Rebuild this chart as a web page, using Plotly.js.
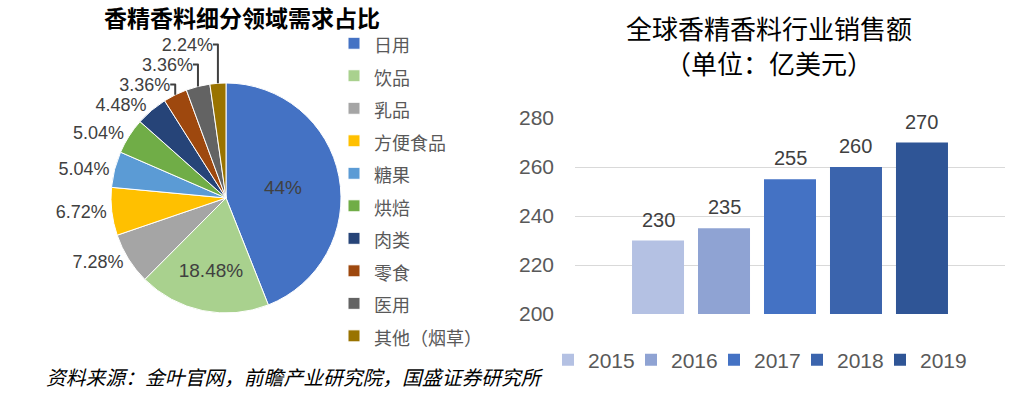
<!DOCTYPE html>
<html>
<head>
<meta charset="utf-8">
<script src="https://cdn.plot.ly/plotly-3.0.1.min.js"></script>
<style>
html,body{margin:0;padding:0;background:#fff;}
#chart{width:1011px;height:393px;}
</style>
</head>
<body>
<div id="chart"></div>
<script>
// Pie data: demand share by segment (%)
const pieCategories = ['日用','饮品','乳品','方便食品','糖果','烘焙','肉类','零食','医用','其他（烟草）'];
const pieValues = [44, 18.48, 7.28, 6.72, 5.04, 5.04, 4.48, 3.36, 3.36, 2.24];
const pieColors = ['#4472C4','#A9D18E','#A5A5A5','#FFC000','#5B9BD5','#70AD47','#264478','#9E480E','#636363','#997300'];

// Bar data: global flavor & fragrance sales (100 million USD)
const barYears = ['2015','2016','2017','2018','2019'];
const barValues = [230, 235, 255, 260, 270];
const barColors = ['#B4C1E3','#8FA3D3','#4472C4','#3B64AD','#2F5596'];
const yTicks = [200, 220, 240, 260, 280];

const FONT = 'Arial, "Liberation Sans", "Noto Sans CJK SC", sans-serif';
const CJK = '"Noto Sans CJK SC", sans-serif';

const traces = [];
traces.push({
  type: 'pie',
  labels: pieCategories.map(c => '<span style="font-size:18px">' + c + '</span>'),
  values: pieValues,
  sort: false,
  direction: 'clockwise',
  rotation: 0,
  marker: {colors: pieColors, line: {color: '#ffffff', width: 1}},
  texttemplate: '%{value}%',
  textposition: pieValues.map((v, i) => i < 2 ? 'inside' : 'outside'),
  insidetextorientation: 'horizontal',
  textfont: {family: FONT, size: 19, color: '#404040'},
  outsidetextfont: {family: FONT, size: 18, color: '#404040'},
  domain: {x: [111/1011, 341/1011], y: [80/393, 310/393]},
  hoverinfo: 'label+percent',
  showlegend: true,
  legend: 'legend'
});

// each year gets its own one-entry legend box (row of boxes below the bars)
const barLegendIds = barYears.map((yr, i) => 'legend' + (i + 2));
barYears.forEach((yr, i) => {
  traces.push({
    type: 'bar',
    name: yr,
    x: [yr],
    y: [barValues[i]],
    marker: {color: barColors[i]},
    hoverinfo: 'name+y',
    xaxis: 'x',
    yaxis: 'y',
    legend: barLegendIds[i]
  });
});

// value labels above bars, placed through the axes from the data arrays
// (category axis: x given as the category index)
const barLabels = barYears.map((yr, i) => ({
  x: i, y: barValues[i], xref: 'x', yref: 'y',
  text: String(barValues[i]),
  showarrow: false,
  xanchor: 'center', yanchor: 'middle',
  yshift: 21,
  font: {family: FONT, size: 20, color: '#404040'}
}));

const layout = {
  width: 1011,
  height: 393,
  margin: {l: 0, r: 0, t: 0, b: 0},
  paper_bgcolor: '#ffffff',
  plot_bgcolor: '#ffffff',
  font: {family: FONT, color: '#595959'},
  barmode: 'overlay',
  bargap: 0.212,
  xaxis: {
    domain: [575/1011, 1005/1011],
    type: 'category',
    categoryorder: 'array',
    categoryarray: barYears,
    range: [-1.258, 5.258],
    showticklabels: false,
    showgrid: false,
    zeroline: false,
    showline: false,
    ticks: '',
    fixedrange: true
  },
  yaxis: {
    domain: [79/393, 275/393],
    range: [200, 280],
    tickvals: yTicks,
    ticktext: yTicks.map(String),
    showgrid: true,
    gridcolor: '#D9D9D9',
    gridwidth: 1,
    zeroline: false,
    showline: false,
    ticks: '',
    ticklabelstandoff: 20,
    tickfont: {family: FONT, size: 21, color: '#595959'},
    fixedrange: true
  },
  legend: {
    x: 334/1011,
    xanchor: 'left',
    y: 1 - 22/393,
    yanchor: 'top',
    font: {family: CJK, size: 22.7, color: '#595959'},
    bgcolor: 'rgba(0,0,0,0)',
    traceorder: 'normal'
  },
  annotations: [
    {
      text: '<b>香精香料细分领域需求占比</b>',
      xref: 'paper', yref: 'paper',
      x: 242/1011, y: 1 - 17/393,
      xanchor: 'center', yanchor: 'middle',
      showarrow: false,
      font: {family: CJK, size: 23, color: '#000000'}
    },
    {
      text: '全球香精香料行业销售额',
      xref: 'paper', yref: 'paper',
      x: 769/1011, y: 1 - 27/393,
      xanchor: 'center', yanchor: 'middle',
      showarrow: false,
      font: {family: CJK, size: 26, color: '#000000'}
    },
    {
      text: '（单位：亿美元）',
      xref: 'paper', yref: 'paper',
      x: 769/1011, y: 1 - 63/393,
      xanchor: 'center', yanchor: 'middle',
      showarrow: false,
      font: {family: CJK, size: 26, color: '#000000'}
    },
    {
      text: '<i>资料来源：金叶官网，前瞻产业研究院，国盛证券研究所</i>',
      xref: 'paper', yref: 'paper',
      x: 44/1011, y: 1 - 376/393,
      xanchor: 'left', yanchor: 'middle',
      showarrow: false,
      font: {family: CJK, size: 19.8, color: '#000000'}
    }
  ].concat(barLabels)
};

// legend boxes for the bar chart: 83 px apart, starting under the plot's left side
barLegendIds.forEach((id, i) => {
  layout[id] = {
    orientation: 'h',
    x: (548 + i * 83) / 1011,
    xanchor: 'left',
    y: 33/393,
    yanchor: 'middle',
    font: {family: FONT, size: 21, color: '#595959'},
    bgcolor: 'rgba(0,0,0,0)'
  };
});

Plotly.newPlot('chart', traces, layout, {displayModeBar: false, staticPlot: true});
</script>
</body>
</html>
